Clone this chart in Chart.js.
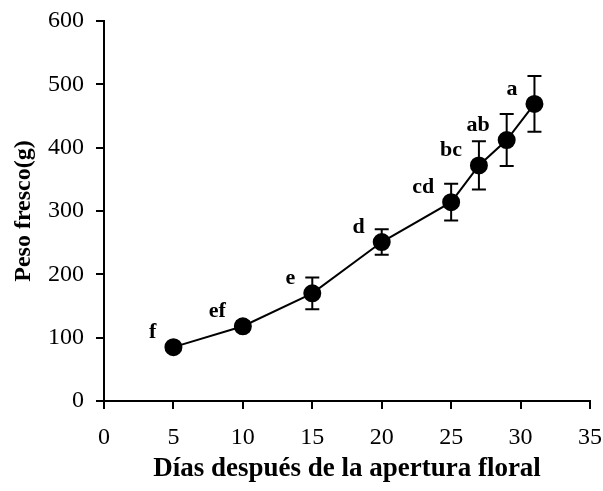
<!DOCTYPE html>
<html>
<head>
<meta charset="utf-8">
<script src="https://cdn.jsdelivr.net/npm/chart.js@4.4.1/dist/chart.umd.min.js"></script>
<style>
  html, body { margin: 0; padding: 0; background: #fff; }
  #wrap { width: 603px; height: 491px; position: relative; }
</style>
</head>
<body>
<div id="wrap"><canvas id="myLineChart"></canvas></div>
<script>
const days = [5, 10, 15, 20, 25, 27, 29, 31];
const weights = [85, 118, 170, 251, 314, 372, 412, 469];
const errors = [4, 8, 25, 20, 29, 38, 41, 44];
const letters = ['f', 'ef', 'e', 'd', 'cd', 'bc', 'ab', 'a'];
const xTicks = [0, 5, 10, 15, 20, 25, 30, 35];
const yTicks = [0, 100, 200, 300, 400, 500, 600];

const serif = "'Liberation Serif', 'Times New Roman', serif";

// error bars drawn under the points
const errorBars = {
  id: 'errorBars',
  beforeDatasetsDraw(chart) {
    const ctx = chart.ctx;
    const x = chart.scales.x, y = chart.scales.y;
    ctx.save();
    ctx.strokeStyle = '#000';
    ctx.lineWidth = 2;
    days.forEach(function (d, i) {
      const px = x.getPixelForValue(d);
      const top = y.getPixelForValue(weights[i] + errors[i]);
      const bot = y.getPixelForValue(weights[i] - errors[i]);
      ctx.beginPath();
      ctx.moveTo(px, top); ctx.lineTo(px, bot);
      ctx.moveTo(px - 7, top); ctx.lineTo(px + 7, top);
      ctx.moveTo(px - 7, bot); ctx.lineTo(px + 7, bot);
      ctx.stroke();
    });
    ctx.restore();
  }
};

// significance letters, up-left of each point
const letterLabels = {
  id: 'letterLabels',
  afterDatasetsDraw(chart) {
    const ctx = chart.ctx;
    const x = chart.scales.x, y = chart.scales.y;
    ctx.save();
    ctx.fillStyle = '#000';
    ctx.font = "bold 22px " + serif;
    ctx.textAlign = 'right';
    ctx.textBaseline = 'middle';
    days.forEach(function (d, i) {
      ctx.fillText(letters[i], x.getPixelForValue(d) - 17, y.getPixelForValue(weights[i]) - 15);
    });
    ctx.restore();
  }
};

function setupLineChart() {
  Chart.defaults.font.family = serif;
  Chart.defaults.color = '#000';

  let ctx = document.getElementById('myLineChart').getContext('2d');

  new Chart(ctx, {
    type: 'line',
    data: {
      datasets: [{
        data: days.map((d, i) => ({x: d, y: weights[i]})),
        borderColor: '#000',
        borderWidth: 2,
        backgroundColor: '#000',
        pointBackgroundColor: '#000',
        pointBorderColor: '#000',
        pointRadius: 8,
        tension: 0,
        fill: false
      }]
    },
    options: {
      responsive: true,
      maintainAspectRatio: false,
      animation: false,
      layout: { padding: { top: 21, right: 13, left: 0, bottom: 0 } },
      plugins: {
        legend: { display: false },
        tooltip: { enabled: false }
      },
      scales: {
        x: {
          type: 'linear',
          min: 0, max: 35,
          afterBuildTicks: (s) => { s.ticks = xTicks.map(v => ({value: v})); },
          afterFit: (s) => { s.height = 90; s.paddingRight = 0; s.paddingLeft = 0; },
          grid: { display: true, drawOnChartArea: false, color: '#000', lineWidth: 2, tickLength: 8 },
          border: { color: '#000', width: 2 },
          ticks: { font: { size: 24 }, padding: 14, maxRotation: 0 },
          title: {
            display: true,
            text: 'Días después de la apertura floral',
            font: { size: 27, weight: 'bold' },
            padding: { top: 0, bottom: 6 }
          }
        },
        y: {
          min: 0, max: 600,
          afterBuildTicks: (s) => { s.ticks = yTicks.map(v => ({value: v})); },
          afterFit: (s) => { s.width = 104; s.paddingTop = 0; s.paddingBottom = 0; },
          grid: { display: true, drawOnChartArea: false, color: '#000', lineWidth: 2, tickLength: 8 },
          border: { color: '#000', width: 2 },
          ticks: { font: { size: 24 }, padding: 12 },
          title: {
            display: true,
            text: 'Peso fresco(g)',
            font: { size: 24, weight: 'bold' },
            padding: { top: 9, bottom: 0 }
          }
        }
      }
    },
    plugins: [errorBars, letterLabels]
  });
}

setupLineChart();
</script>
</body>
</html>
